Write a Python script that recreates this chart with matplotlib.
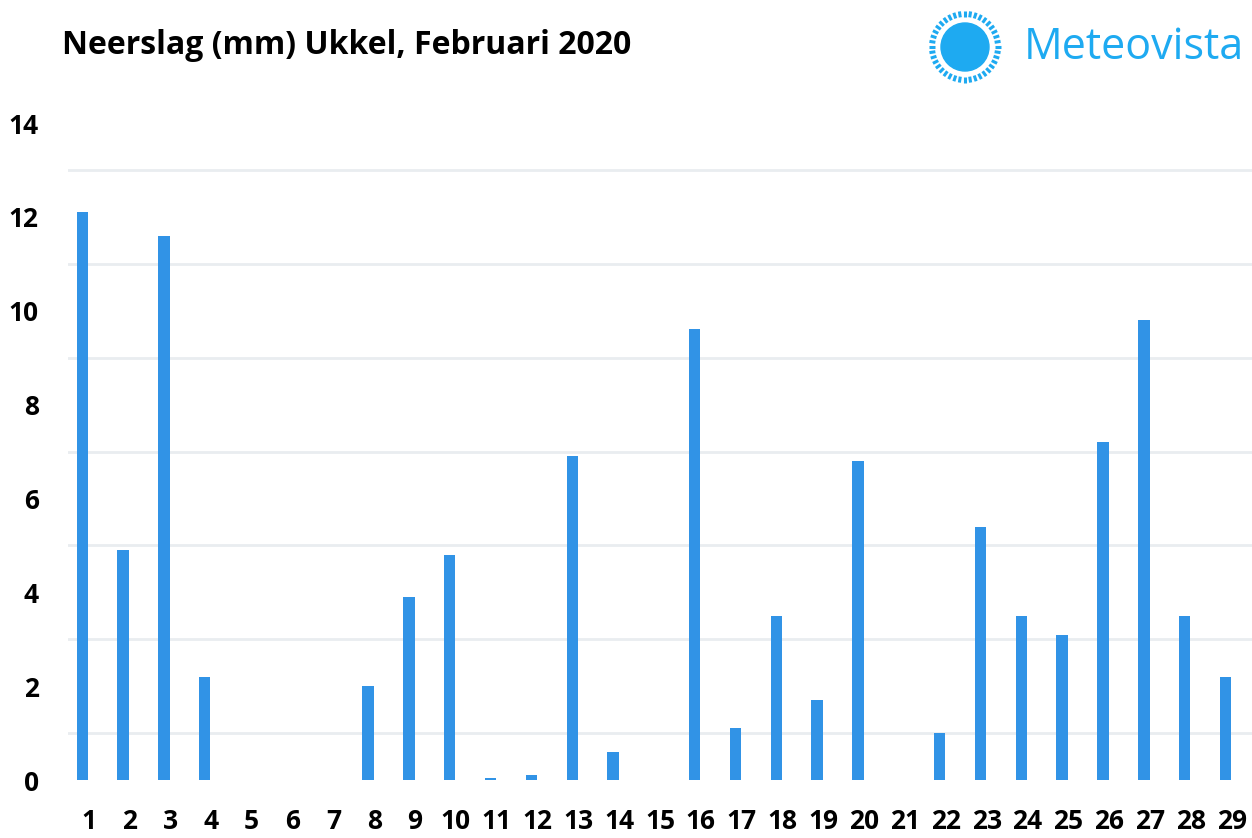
import numpy as np
import matplotlib.pyplot as plt
from matplotlib.patches import Circle

# Neerslag Ukkel, februari 2020 (mm per dag)
dagen = list(range(1, 30))
neerslag = [12.1, 4.9, 11.6, 2.2, 0, 0, 0, 2.0, 3.9, 4.8,
            0.05, 0.1, 6.9, 0.6, 0, 9.6, 1.1, 3.5, 1.7, 6.8,
            0, 1.0, 5.4, 3.5, 3.1, 7.2, 9.8, 3.5, 2.2]
y_ticks = [0, 2, 4, 6, 8, 10, 12, 14]
grid_lijnen = list(range(0, 14))

titel = "Neerslag (mm) Ukkel, Februari 2020"
merk = "Meteovista"

plt.rcParams["font.family"] = ["Open Sans", "DejaVu Sans"]

fig = plt.figure(figsize=(12.52, 8.38), dpi=100)
ax = fig.add_axes([68 / 1252, 1 - 780 / 838, 1 - 68 / 1252, (780 - 123) / 838])

# balken staan iets links van het midden van de categorie
x = np.array(dagen) - 0.15
ax.bar(x, neerslag, width=0.28, color="#3193e6", zorder=3)

ax.set_xlim(0.5, 29.5)
ax.set_ylim(0, 14)
ax.set_xticks(dagen)
ax.set_xticklabels([str(d) for d in dagen])
ax.set_yticks(y_ticks)
ax.set_yticks(grid_lijnen, minor=True)

ax.grid(axis="y", which="minor", color="#e9edf0", linewidth=2, zorder=0)
ax.tick_params(axis="both", which="both", length=0)
ax.tick_params(axis="y", labelsize=19, pad=21)
ax.tick_params(axis="x", labelsize=19, pad=20)
for lbl in ax.get_xticklabels() + ax.get_yticklabels():
    lbl.set_fontweight("bold")
for s in ax.spines.values():
    s.set_visible(False)

fig.text(62 / 1252, 1 - 46 / 838, titel, fontsize=23, fontweight="bold",
         va="center", ha="left")

# logo
blauw = "#1eaaf1"
logo = fig.add_axes([920 / 1252, 1 - 92 / 838, 90 / 1252, 90 / 838])
logo.set_xlim(-45, 45)
logo.set_ylim(-45, 45)
logo.set_aspect("equal")
logo.axis("off")
logo.add_patch(Circle((0, 0), 24, color=blauw))
hoeken = np.linspace(0, 2 * np.pi, 40, endpoint=False)
for h in hoeken:
    r0, r1 = 30, 36
    logo.plot([r0 * np.cos(h), r1 * np.cos(h)], [r0 * np.sin(h), r1 * np.sin(h)],
              color=blauw, linewidth=2.2, solid_capstyle="butt")

fig.text(1024 / 1252, 1 - 48 / 838, merk, fontsize=31, color=blauw,
         va="center", ha="left")

fig.savefig("out.png", dpi=100)
